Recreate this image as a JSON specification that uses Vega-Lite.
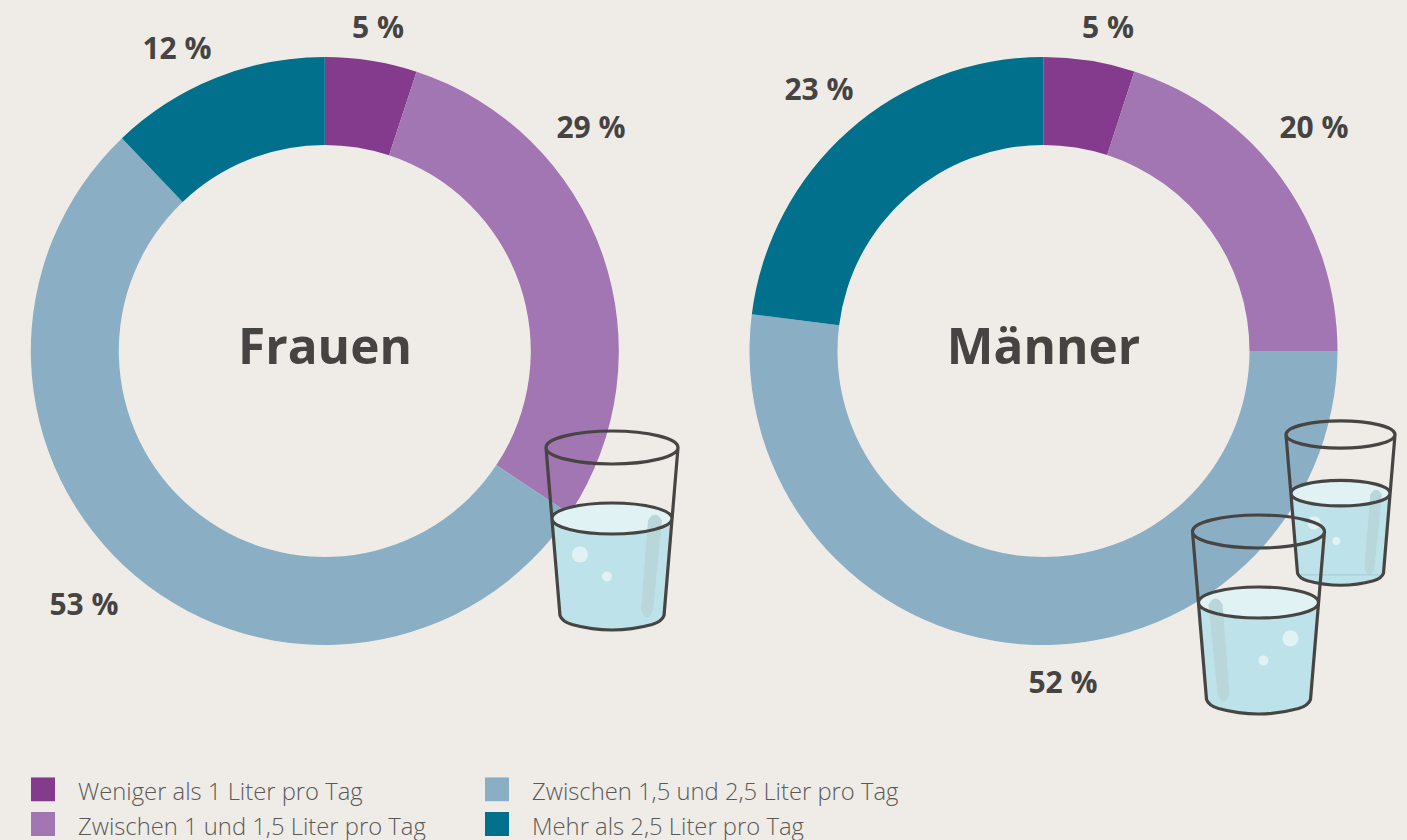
{
"$schema":"https://vega.github.io/schema/vega-lite/v6.json",
"width":1407,"height":840,"padding":0,
"autosize":{"type":"fit","contains":"padding"},
"background":"#efece7",
"config":{"view":{"stroke":null},"axis":{"domain":false,"grid":false}},
"datasets":{
"anteile":[
{"gruppe":"Frauen","kategorie":"Weniger als 1 Liter pro Tag","rang":1,"anteil":5},
{"gruppe":"Frauen","kategorie":"Zwischen 1 und 1,5 Liter pro Tag","rang":2,"anteil":29},
{"gruppe":"Frauen","kategorie":"Zwischen 1,5 und 2,5 Liter pro Tag","rang":3,"anteil":53},
{"gruppe":"Frauen","kategorie":"Mehr als 2,5 Liter pro Tag","rang":4,"anteil":12},
{"gruppe":"Männer","kategorie":"Weniger als 1 Liter pro Tag","rang":1,"anteil":5},
{"gruppe":"Männer","kategorie":"Zwischen 1 und 1,5 Liter pro Tag","rang":2,"anteil":20},
{"gruppe":"Männer","kategorie":"Zwischen 1,5 und 2,5 Liter pro Tag","rang":3,"anteil":52},
{"gruppe":"Männer","kategorie":"Mehr als 2,5 Liter pro Tag","rang":4,"anteil":23}
],
"werte":[
{"text":"5 %","x":378,"y":29},
{"text":"29 %","x":591,"y":129},
{"text":"53 %","x":84,"y":606},
{"text":"12 %","x":177,"y":50},
{"text":"5 %","x":1108,"y":29},
{"text":"20 %","x":1314,"y":129},
{"text":"52 %","x":1063,"y":684},
{"text":"23 %","x":819,"y":91}
],
"titel":[{"text":"Frauen","x":325,"y":349},{"text":"Männer","x":1043.5,"y":349}],
"glaeser":[
{"glas":"Frauen","seite":"rechts","x":612,"y":447.5},
{"glas":"klein","seite":"rechts","x":1340.5,"y":434.5},
{"glas":"gross","seite":"links","x":1258.5,"y":531.5}
]
},
"layer":[
{"data":{"name":"anteile"},"transform":[{"filter":"datum.gruppe==='Frauen'"}],
"mark":{"type":"arc","radius":294,"radius2":206},
"encoding":{
"x":{"datum":324.8,"scale":{"domain":[0,1407],"nice":false,"zero":false},"axis":null},
"y":{"datum":351,"scale":{"domain":[840,0],"nice":false,"zero":false},"axis":null},
"theta":{"field":"anteil","type":"quantitative","stack":"normalize"},
"order":{"field":"rang","type":"ordinal"},
"color":{"field":"kategorie","type":"nominal",
"scale":{"domain":["Weniger als 1 Liter pro Tag","Zwischen 1 und 1,5 Liter pro Tag","Zwischen 1,5 und 2,5 Liter pro Tag","Mehr als 2,5 Liter pro Tag"],"range":["#843b8d","#a275b3","#8aafc4","#00708c"]},
"legend":{"title":null,"orient":"none","legendX":31,"legendY":777,"direction":"vertical","columns":2,"columnPadding":59,"rowPadding":7,"symbolType":"square","symbolSize":576,"symbolStrokeWidth":0,"symbolOpacity":1,"labelFont":"Open Sans","labelFontWeight":300,"labelFontSize":23.8,"labelColor":"#5a5957","labelOffset":23,"labelLimit":500,"clipHeight":24,"encoding":{"labels":{"dy":{"value":3.5}}}}}
}},
{"data":{"name":"anteile"},"transform":[{"filter":"datum.gruppe==='Männer'"}],
"mark":{"type":"arc","radius":294,"radius2":206},
"encoding":{
"x":{"datum":1043.5},"y":{"datum":351},
"theta":{"field":"anteil","type":"quantitative","stack":"normalize"},
"order":{"field":"rang","type":"ordinal"},
"color":{"field":"kategorie","type":"nominal"}
}},
{"data":{"name":"werte"},"mark":{"type":"text","font":"Open Sans","fontWeight":700,"fontSize":30,"fill":"#464442","align":"center","baseline":"middle"},
"encoding":{"x":{"field":"x","type":"quantitative"},"y":{"field":"y","type":"quantitative"},"text":{"field":"text"}}},
{"data":{"name":"titel"},"mark":{"type":"text","font":"Open Sans","fontWeight":700,"fontSize":49.5,"fill":"#464442","align":"center","baseline":"middle"},
"encoding":{"x":{"field":"x","type":"quantitative"},"y":{"field":"y","type":"quantitative"},"text":{"field":"text"}}},
{"data":{"name":"glaeser"},
"mark":{"type":"point","shape":"M-60,71 L-52,168 Q-50,174 -40,177 Q0,188 40,177 Q50,174 52,168 L60,71 Z","filled":true,"fill":"#bde2ea","opacity":1,"strokeWidth":0},
"encoding":{"x":{"field":"x","type":"quantitative"},"y":{"field":"y","type":"quantitative"},
"size":{"condition":{"test":"datum.glas==='klein'","value":2.73},"value":4}}},
{"data":{"name":"glaeser"},
"mark":{"type":"point","shape":"M-60,71 A60,15.5 0 1,1 60,71 A60,15.5 0 1,1 -60,71 Z","filled":true,"fill":"#e1f2f5","opacity":1,"strokeWidth":0},
"encoding":{"x":{"field":"x","type":"quantitative"},"y":{"field":"y","type":"quantitative"},
"size":{"condition":{"test":"datum.glas==='klein'","value":2.73},"value":4}}},
{"data":{"name":"glaeser"},"transform":[{"filter":"datum.seite==='rechts'"}],
"mark":{"type":"point","shape":"M36,73 Q43,61 50,73 L41,162 Q35,178 29,162 Z","filled":true,"fill":"#b9d6da","opacity":1,"strokeWidth":0},
"encoding":{"x":{"field":"x","type":"quantitative"},"y":{"field":"y","type":"quantitative"},
"size":{"condition":{"test":"datum.glas==='klein'","value":2.73},"value":4}}},
{"data":{"name":"glaeser"},"transform":[{"filter":"datum.seite==='rechts'"}],
"mark":{"type":"point","shape":"M-24,107 A8,8 0 1,1 -40,107 A8,8 0 1,1 -24,107 Z M0,129 A5,5 0 1,1 -10,129 A5,5 0 1,1 0,129 Z","filled":true,"fill":"#e1f2f5","opacity":1,"strokeWidth":0},
"encoding":{"x":{"field":"x","type":"quantitative"},"y":{"field":"y","type":"quantitative"},
"size":{"condition":{"test":"datum.glas==='klein'","value":2.73},"value":4}}},
{"data":{"name":"glaeser"},"transform":[{"filter":"datum.seite==='links'"}],
"mark":{"type":"point","shape":"M-36,73 Q-43,61 -50,73 L-41,162 Q-35,178 -29,162 Z","filled":true,"fill":"#b9d6da","opacity":1,"strokeWidth":0},
"encoding":{"x":{"field":"x","type":"quantitative"},"y":{"field":"y","type":"quantitative"},"size":{"value":4}}},
{"data":{"name":"glaeser"},"transform":[{"filter":"datum.seite==='links'"}],
"mark":{"type":"point","shape":"M40,107 A8,8 0 1,1 24,107 A8,8 0 1,1 40,107 Z M10,129 A5,5 0 1,1 0,129 A5,5 0 1,1 10,129 Z","filled":true,"fill":"#e1f2f5","opacity":1,"strokeWidth":0},
"encoding":{"x":{"field":"x","type":"quantitative"},"y":{"field":"y","type":"quantitative"},"size":{"value":4}}},
{"data":{"name":"glaeser"},"transform":[{"filter":"datum.glas==='klein'"}],
"mark":{"type":"point","shape":"M-52,170 L52,170","filled":false,"stroke":"#a5cad3","strokeWidth":1,"opacity":1},
"encoding":{"x":{"field":"x","type":"quantitative"},"y":{"field":"y","type":"quantitative"},"size":{"value":2.73}}},
{"data":{"name":"glaeser"},
"mark":{"type":"point","shape":"M-66,0 A66,16.5 0 1,1 66,0 A66,16.5 0 1,1 -66,0 Z M-66,0 L-52,168 Q-50,174 -40,177 Q0,188 40,177 Q50,174 52,168 L66,0 M-60,71 A60,15.5 0 1,0 60,71 A60,15.5 0 1,0 -60,71 Z","filled":false,"stroke":"#474543","strokeWidth":3.2,"strokeJoin":"round","strokeCap":"round","opacity":1},
"encoding":{"x":{"field":"x","type":"quantitative"},"y":{"field":"y","type":"quantitative"},
"size":{"condition":{"test":"datum.glas==='klein'","value":2.73},"value":4}}}
]
}
